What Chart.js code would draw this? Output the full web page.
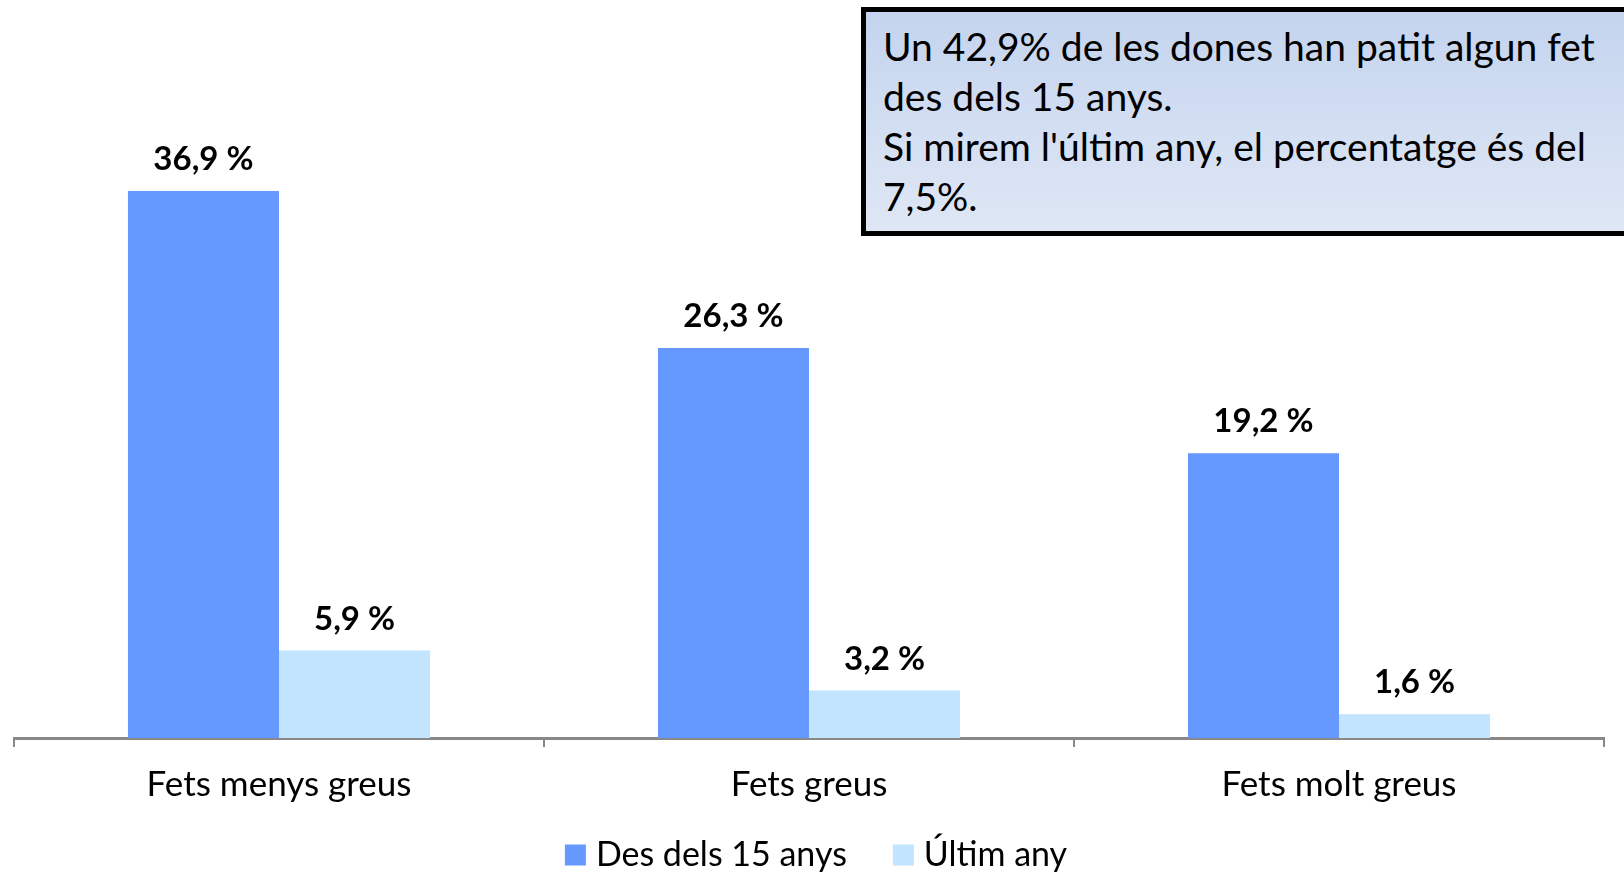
<!DOCTYPE html>
<html>
<head>
<meta charset="utf-8">
<script src="https://cdn.jsdelivr.net/npm/chart.js@4.4.1/dist/chart.umd.min.js"></script>
<style>
  html, body { margin: 0; padding: 0; background: #fff; overflow: hidden; }
  #wrap { position: relative; width: 1624px; height: 873px; }
  #note {
    position: absolute; left: 861px; top: 7px; width: 800px; height: 229px;
    border: 5px solid #000;
    background: linear-gradient(to bottom, #c4d4ee, #dfe7f5);
    font-family: Lato, sans-serif; font-size: 39px; line-height: 50px;
    color: #000; padding: 9px 0 0 17px; box-sizing: border-box; white-space: nowrap;
  }
</style>
</head>
<body>
<div id="wrap">
  <canvas id="c" width="1624" height="873"></canvas>
  <div id="note">Un 42,9% de les dones han patit algun fet<br>des dels 15 anys.<br>Si mirem l'últim any, el percentatge és del<br>7,5%.</div>
</div>
<script>
const categories = ["Fets menys greus", "Fets greus", "Fets molt greus"];
const seriesNames = ["Des dels 15 anys", "Últim any"];
const desDels15 = [36.9, 26.3, 19.2];
const ultimAny = [5.9, 3.2, 1.6];
const seriesColors = ['#6699ff', '#c2e4fe'];

const fmt = v => v.toFixed(1).replace('.', ',') + ' %';

const labelPlugin = {
  id: 'valueLabels',
  afterDatasetsDraw(chart) {
    const ctx = chart.ctx;
    ctx.save();
    ctx.font = 'bold 33px Lato, sans-serif';
    ctx.fillStyle = '#000';
    ctx.textAlign = 'center';
    ctx.textBaseline = 'alphabetic';
    chart.data.datasets.forEach((ds, i) => {
      chart.getDatasetMeta(i).data.forEach((bar, j) => {
        ctx.fillText(fmt(ds.data[j]), bar.x, bar.y - 21);
      });
    });
    ctx.restore();
  }
};

const legendPlugin = {
  id: 'bottomLegend',
  afterDraw(chart) {
    const ctx = chart.ctx;
    ctx.save();
    ctx.font = '34px Lato, sans-serif';
    ctx.textBaseline = 'middle';
    ctx.textAlign = 'left';
    const box = 21, gapText = 10, gapItem = 46;
    const items = chart.data.datasets.map(ds => ({ label: ds.label, color: ds.backgroundColor, w: box + gapText + ctx.measureText(ds.label).width }));
    const total = items.reduce((s, it) => s + it.w, 0) + gapItem * (items.length - 1);
    const ca = chart.chartArea;
    let x = (ca.left + ca.right) / 2 + 7 - total / 2;
    const cy = 855;
    items.forEach(it => {
      ctx.fillStyle = it.color;
      ctx.fillRect(x, cy - box / 2, box, box);
      ctx.fillStyle = '#000';
      ctx.fillText(it.label, x + box + gapText, cy);
      x += it.w + gapItem;
    });
    ctx.restore();
  }
};

new Chart(document.getElementById('c'), {
  type: 'bar',
  data: {
    labels: categories,
    datasets: [
      { label: seriesNames[0], data: desDels15, backgroundColor: seriesColors[0] },
      { label: seriesNames[1], data: ultimAny, backgroundColor: seriesColors[1] }
    ]
  },
  options: {
    responsive: false,
    animation: false,
    devicePixelRatio: 1,
    layout: { padding: { left: 14, right: 20, top: 145, bottom: 50 } },
    datasets: { bar: { categoryPercentage: 0.57, barPercentage: 1.0 } },
    scales: {
      y: { display: false, min: 0, max: 40 },
      x: {
        offset: true,
        border: { display: true, color: '#888888', width: 3 },
        grid: { display: true, offset: true, drawOnChartArea: false, drawTicks: true, tickLength: 9, color: '#888888', lineWidth: 2 },
        ticks: { color: '#000', font: { family: 'Lato, sans-serif', size: 35 }, padding: 17 }
      }
    },
    plugins: {
      legend: { display: false },
      tooltip: { enabled: false }
    }
  },
  plugins: [labelPlugin, legendPlugin]
});
</script>
</body>
</html>
